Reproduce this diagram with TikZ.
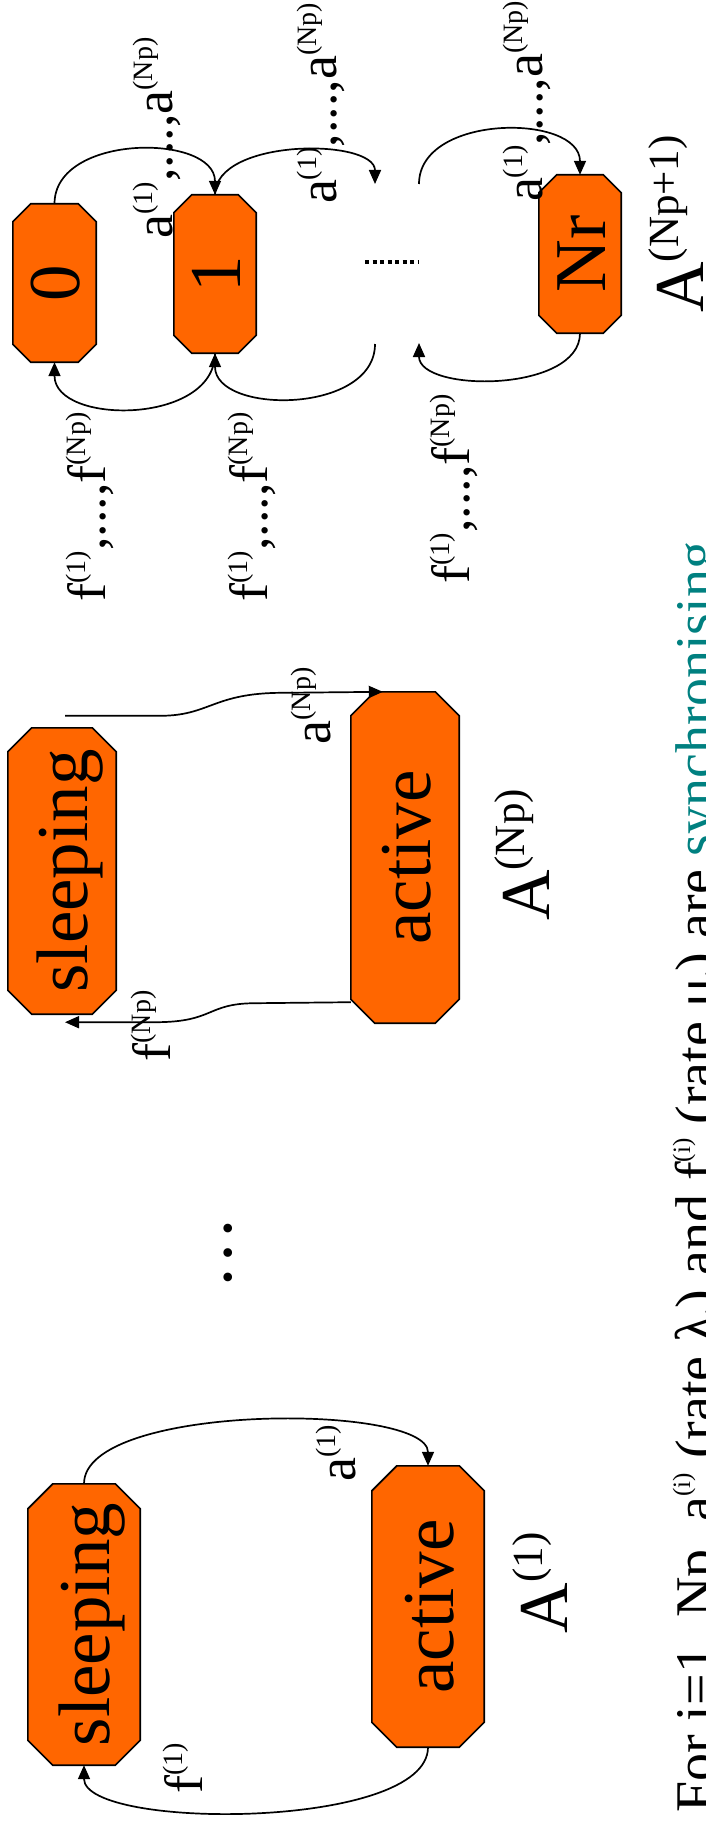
\documentclass[tikz,border=0pt]{standalone}
\usepackage{fontspec}
\setmainfont{Liberation Serif}
\usetikzlibrary{arrows.meta,calc,backgrounds}
\definecolor{boxorange}{RGB}{255,102,0}
\definecolor{synteal}{RGB}{0,128,128}
\newcommand\bxfont{\fontsize{73}{80}\selectfont}
\newcommand\lbfont{\fontsize{54}{60}\selectfont}
\newcommand\bigfont{\fontsize{70}{80}\selectfont}
\newcommand\txfont{\fontsize{56}{60}\selectfont}
\newcommand\lsup[1]{\raisebox{20pt}{\fontsize{28}{28}\selectfont #1}}
\newcommand\Asup[1]{\raisebox{25pt}{\fontsize{43}{43}\selectfont #1}}
\newcommand\tsup[1]{\raisebox{24pt}{\fontsize{25}{25}\selectfont #1}}
\newcommand\tsub[1]{\raisebox{-8pt}{\fontsize{25}{25}\selectfont #1}}
\newcommand\boxtext[1]{\rotatebox{90}{\raisebox{0pt}[50pt][0pt]{#1}}}
\begin{document}
\begin{tikzpicture}[x=1pt,y=1pt,
  state/.style={rectangle, draw=none, inner sep=0pt, font=\bxfont},
  lbl/.style={rotate=90, anchor=base, inner sep=0pt, font=\lbfont},
  big/.style={rotate=90, anchor=base, inner sep=0pt, font=\bigfont},
  edge/.style={line width=1.7pt, -{Triangle[length=14pt,width=12pt]}},
  octo/.style={fill=boxorange, draw=black, line width=1.6pt}
]
\useasboundingbox (0,0) rectangle (705,-1822);
\clip (0,0) rectangle (705,-1822);

% states
\node[state, minimum width=112pt, minimum height=281pt] (sl1) at (84,-1624.5) {\boxtext{sleeping}};
\node[state, minimum width=112pt, minimum height=281pt] (ac1) at (428,-1606.5) {\boxtext{active}};
\node[state, minimum width=108pt, minimum height=286pt] (slN) at (62,-871) {\boxtext{sleeping}};
\node[state, minimum width=108pt, minimum height=331pt] (acN) at (405,-857.5) {\boxtext{active}};
\node[state, minimum width=83pt, minimum height=158pt] (b0) at (54.5,-283) {\boxtext{0}};
\node[state, minimum width=82pt, minimum height=158pt] (b1) at (215,-274) {\boxtext{1}};
\node[state, minimum width=82pt, minimum height=158pt] (bNr) at (580,-254) {\boxtext{Nr}};

\begin{scope}[on background layer]
\foreach \n/\c in {sl1/25,ac1/25,slN/24,acN/24,b0/18,b1/18,bNr/18}{
  \draw[octo] ($(\n.north west)+(\c,0)$) -- ($(\n.north east)+(-\c,0)$)
    -- ($(\n.north east)+(0,-\c)$) -- ($(\n.south east)+(0,\c)$)
    -- ($(\n.south east)+(-\c,0)$) -- ($(\n.south west)+(\c,0)$)
    -- ($(\n.south west)+(0,\c)$) -- ($(\n.north west)+(0,-\c)$) -- cycle;
}
\end{scope}

% A(1) connectors
\draw[edge] (sl1.north) .. controls +(0,81) and +(0,63) .. (ac1.north);
\draw[edge] (ac1.south) .. controls +(0,-83) and +(0,-65) .. (sl1.south);

% A(Np) connectors
\coordinate (aNs) at ($(slN.north)+(3,12)$);
\coordinate (aNe) at ($(acN.north west)+(32,0)$);
\coordinate (fNs) at ($(acN.south west)+(0,21)$);
\coordinate (fNe) at ($(slN.south)+(3,-8)$);
\draw[edge] (aNs) -- ++(95,0) .. controls +(50,0) and +(-70,0) .. ($(aNe)+(-100,-1)$) -- (aNe);
\draw[edge] (fNs) -- ++(-95,-1) .. controls +(-50,0) and +(60,0) .. ($(fNe)+(90,0)$) -- (fNe);

% A(Np+1) connectors
\coordinate (dA) at (375,-184);
\coordinate (dF) at (375,-344);
\coordinate (eA) at (419,-184);
\coordinate (eF) at (419,-343);
\draw[edge] (b0.north) .. controls +(0,70.5) and +(0,61.5) .. (b1.north);
\draw[edge] (b1.south) .. controls +(0,-72) and +(0,-63) .. (b0.south);
\draw[edge] (b1.north) .. controls +(0,57) and +(0,46) .. (dA);
\draw[edge] (dF) .. controls +(0,-70.5) and +(0,-61.5) .. (b1.south);
\draw[edge] (eA) .. controls +(0,70.5) and +(0,61.5) .. (bNr.north);
\draw[edge] (bNr.south) .. controls +(0,-59.7) and +(0,-49.7) .. (eF);
\coordinate (dl1) at (365,-262);
\coordinate (dl2) at (418,-262);
\draw[line width=4pt, dash pattern=on 4pt off 3.5pt] (dl1) -- (dl2);

% ellipsis between components
\node[rotate=90, anchor=base, inner sep=0pt, font=\bxfont] (dots) at (231,-1253) {…};

% labels
\node[lbl] (la01) at (172,-138) {a\lsup{(1)},...,a\lsup{(Np)}};
\node[lbl] (la1d) at (336,-103.5) {a\lsup{(1)},...,a\lsup{(Np)}};
\node[lbl] (laNr) at (542,-101.5) {a\lsup{(1)},...,a\lsup{(Np)}};
\node[lbl] (lf10) at (105,-507) {f\lsup{(1)},...,f\lsup{(Np)}};
\node[lbl] (lfd1) at (267,-507) {f\lsup{(1)},...,f\lsup{(Np)}};
\node[lbl] (lfNr) at (469,-489) {f\lsup{(1)},...,f\lsup{(Np)}};
\node[lbl] (la1) at (355,-1453.5) {a\lsup{(1)}};
\node[lbl] (lf1) at (202,-1768) {f\lsup{(1)}};
\node[lbl] (laN) at (330,-706) {a\lsup{(Np)}};
\node[lbl] (lfN) at (170,-1026) {f\lsup{(Np)}};
\node[big] (A1) at (567,-1583) {A\Asup{(1)}};
\node[big] (AN) at (549,-855) {A\Asup{(Np)}};
\node[big] (AN1) at (703,-224) {A\Asup{(Np+1)}};

% bottom text
\node[rotate=90, anchor=base west, inner sep=0pt, font=\txfont] (txt) at (714,-1813)
  {For i=1..Np, a\tsup{(i)} (rate λ\tsub{i}) and f\tsup{(i)} (rate μ\tsub{i}) are \textcolor{synteal}{synchronising}};
\end{tikzpicture}
\end{document}
